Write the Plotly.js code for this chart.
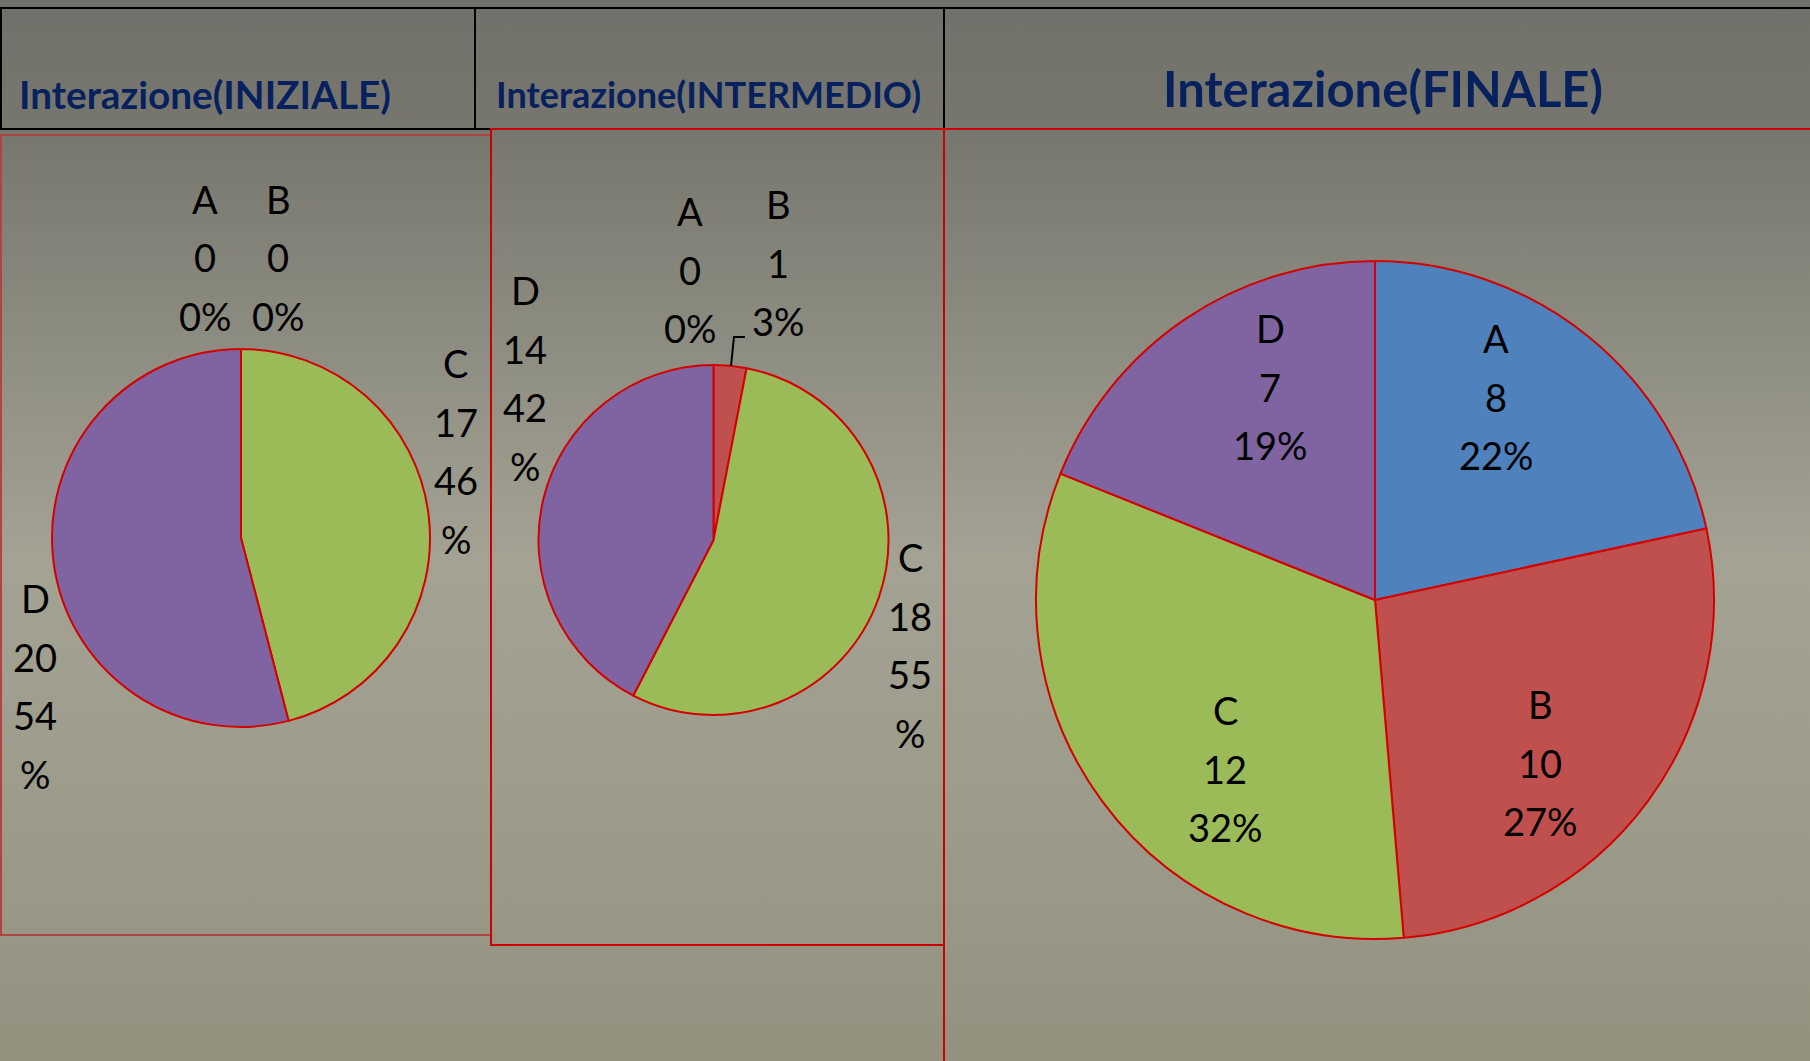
<!DOCTYPE html>
<html>
<head>
<meta charset="utf-8">
<script src="https://cdn.plot.ly/plotly-3.0.1.min.js"></script>
<style>
html,body{margin:0;padding:0;overflow:hidden;background:#8a897c;}
#chart{width:1810px;height:1061px;
background:linear-gradient(to bottom,#71716b 0px,#77776f 130px,#a4a293 560px,#9d9b8a 800px,#93917e 1061px);}
</style>
</head>
<body>
<div id="chart"></div>
<script>
// ---- data ----
const categories = ['A', 'B', 'C', 'D'];
const valuesIniziale = [0, 0, 17, 20];
const valuesIntermedio = [0, 1, 18, 14];
const valuesFinale = [8, 10, 12, 7];
const panelTitles = ['Interazione(INIZIALE)', 'Interazione(INTERMEDIO)', 'Interazione(FINALE)'];
const sliceColors = ['#4f81bd', '#c0504d', '#9bbb59', '#8064a2'];

// ---- layout helpers (pixel -> paper) ----
const W = 1810, H = 1061;
const px = x => x / W;
const py = y => 1 - y / H;

// pie placement: centre and radius in pixels
const pieGeom = [
  {cx: 241, cy: 538, r: 189},
  {cx: 713.5, cy: 540, r: 175},
  {cx: 1375, cy: 600, r: 339}
];
// label placement (first line centre) and whether the percent wraps
const labelPlace = [
  [{x: 205, y: 199, split: false}, {x: 278, y: 199, split: false}, {x: 456, y: 363, split: true}, {x: 35, y: 598, split: true}],
  [{x: 690, y: 211, split: false}, {x: 778, y: 204, split: false}, {x: 910, y: 557, split: true}, {x: 525, y: 290, split: true}],
  [{x: 1496, y: 338, split: false}, {x: 1540, y: 704, split: false}, {x: 1225, y: 710, split: false}, {x: 1270, y: 328, split: false}]
];
const lineGap = 58.5;
const allValues = [valuesIniziale, valuesIntermedio, valuesFinale];

const traces = allValues.map((vals, k) => {
  const g = pieGeom[k];
  return {
    type: 'pie',
    labels: categories,
    values: vals,
    sort: false,
    direction: 'clockwise',
    rotation: 0,
    textinfo: 'none',
    hoverinfo: 'label+value+percent',
    showlegend: false,
    marker: {colors: sliceColors, line: {color: '#d40000', width: 2}},
    domain: {x: [px(g.cx - g.r), px(g.cx + g.r)], y: [py(g.cy + g.r), py(g.cy - g.r)]}
  };
});

const annotations = [];
const labelFont = {family: 'Lato, "Open Sans", sans-serif', size: 38, color: '#000000'};
allValues.forEach((vals, k) => {
  const total = vals.reduce((a, b) => a + b, 0);
  vals.forEach((v, i) => {
    const p = labelPlace[k][i];
    const pct = Math.round(v / total * 100);
    const lines = p.split ? [categories[i], String(v), String(pct), '%'] : [categories[i], String(v), pct + '%'];
    lines.forEach((t, j) => {
      annotations.push({
        xref: 'paper', yref: 'paper', x: px(p.x), y: py(p.y + j * lineGap),
        xanchor: 'center', yanchor: 'middle', showarrow: false, text: t, font: labelFont
      });
    });
  });
});

// panel titles
const titlePlace = [{x: 205, y: 94, size: 38.7}, {x: 708, y: 94, size: 36}, {x: 1383, y: 88, size: 49}];
panelTitles.forEach((t, k) => {
  annotations.push({
    xref: 'paper', yref: 'paper', x: px(titlePlace[k].x), y: py(titlePlace[k].y),
    xanchor: 'center', yanchor: 'middle', showarrow: false, text: '<b>' + t + '</b>',
    font: {family: 'Lato, "Open Sans", sans-serif', size: titlePlace[k].size, color: '#07215e'}
  });
});

const black = {color: '#000000', width: 2};
const red = {color: '#cc0000', width: 2};
const rect = (x0, y0, x1, y1, line) => ({type: 'rect', xref: 'paper', yref: 'paper', x0: px(x0), x1: px(x1), y0: py(y1), y1: py(y0), line: line, fillcolor: 'rgba(0,0,0,0)'});
const seg = (x0, y0, x1, y1, line) => ({type: 'line', xref: 'paper', yref: 'paper', x0: px(x0), x1: px(x1), y0: py(y0), y1: py(y1), line: line});

const shapes = [
  seg(0, 8, W, 8, black),
  rect(1, 8, 475, 129, black),
  rect(475, 8, 944, 129, black),
  seg(944, 8, 944, 129, black),
  rect(1, 135, 491, 935, {color: '#b04444', width: 2}),
  rect(491, 129, 944, 945, red),
  seg(944, 129, W, 129, red),
  seg(944, 129, 944, H, red),
  {type: 'path', xref: 'paper', yref: 'paper',
   path: 'M ' + px(731) + ' ' + py(366) + ' L ' + px(734) + ' ' + py(337) + ' L ' + px(745) + ' ' + py(337),
   line: {color: '#000000', width: 2}}
];

const layout = {
  width: W, height: H,
  margin: {l: 0, r: 0, t: 0, b: 0},
  paper_bgcolor: 'rgba(0,0,0,0)',
  plot_bgcolor: 'rgba(0,0,0,0)',
  annotations: annotations,
  shapes: shapes,
  showlegend: false
};

Plotly.newPlot('chart', traces, layout, {displayModeBar: false, staticPlot: true});
</script>
</body>
</html>
